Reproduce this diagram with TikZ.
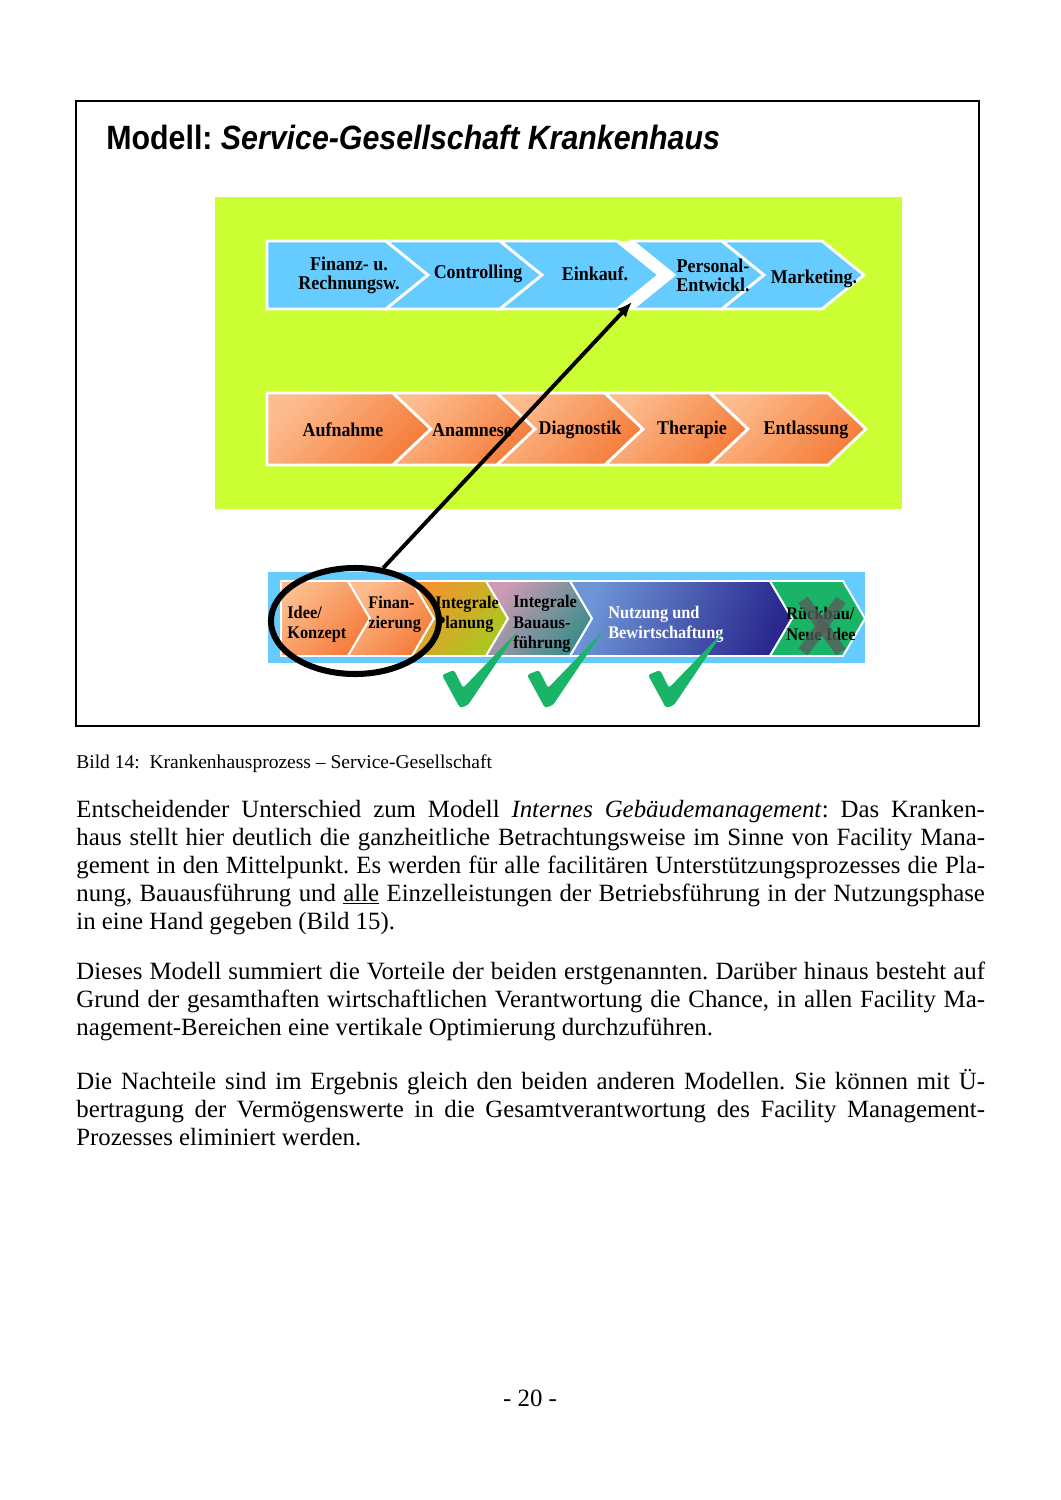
\documentclass[tikz,border=0pt]{standalone}
\usepackage{fontspec}
\setmainfont{Liberation Serif}
\newfontfamily\titlefont[FakeStretch=0.9]{Liberation Sans}
\newfontfamily\boxfont[FakeStretch=0.92]{Liberation Serif}
\usetikzlibrary{arrows.meta, shapes.geometric}
\definecolor{limebg}{RGB}{204,255,51}
\definecolor{skyrow}{RGB}{102,204,255}
\definecolor{orL}{RGB}{252,188,142}
\definecolor{orD}{RGB}{245,124,58}
\definecolor{planL}{RGB}{242,148,48}
\definecolor{planD}{RGB}{168,202,30}
\definecolor{bauL}{RGB}{206,154,180}
\definecolor{bauD}{RGB}{58,140,138}
\definecolor{nutzL}{RGB}{110,150,215}
\definecolor{nutzD}{RGB}{42,40,142}
\definecolor{rueckgreen}{RGB}{26,180,104}
\definecolor{checkgreen}{RGB}{26,180,104}
\definecolor{xgray}{RGB}{90,90,90}
\newcommand{\jline}[1]{\makebox[180mm][s]{#1}}
\frenchspacing

\begin{document}
\begin{tikzpicture}[x=0.19811mm, y=-0.19811mm, >={Latex[length=8.5pt,width=7pt]},
  chev/.style={draw=white, line width=1.6pt, line join=miter},
  chevs/.style={draw=white, line width=1.1pt, line join=miter},
  orshade/.style={top color=orL, bottom color=orD, shading angle=45},
  toplbl/.style={font=\boxfont\bfseries\fontsize{11}{10.7}\selectfont, align=center, inner sep=0pt},
  botlbl/.style={font=\boxfont\bfseries\fontsize{10}{11.5}\selectfont, align=left, anchor=west, inner sep=0pt},
  bodyline/.style={anchor=base west, inner sep=0pt, font=\fontsize{14}{16}\selectfont},
  crossmk/.style={line width=6.5pt, draw=xgray, opacity=0.75},
  checkmk/.pic={\fill[checkgreen, rounded corners=1.5pt] (-18,-33) -- (-6,-38) -- (3,-20) -- (58,-77) -- (8,-3) -- (0,0) -- cycle;}]
  \fill[white] (0,0) rectangle (1060,1500);
  \useasboundingbox (0,0) rectangle (1060,1500);
  % frame and title
  \draw[line width=0.8pt] (76,101) rectangle (979,726);
  \node[anchor=base west, inner sep=0pt, font=\titlefont\bfseries\fontsize{19}{22}\selectfont] (title) at (106,150)
    {Modell: \textit{Service-Gesellschaft Krankenhaus}};
  % green field
  \fill[limebg] (215,197) rectangle (902,509);
  % support processes (blue row)
  \draw[chev, fill=skyrow] (267,241) -- (386,241) -- ++(42,34) -- (386,309) -- (267,309) -- cycle;
  \foreach \xl/\xr in {386/500, 500/617, 632/722, 722/822}
    \draw[chev, fill=skyrow] (\xl,241) -- (\xr,241) -- ++(42,34) -- (\xr,309) -- (\xl,309) -- ++(42,-34) -- cycle;
  \fill[white] (617,241) -- (632,241) -- (674,275) -- (632,309) -- (617,309) -- (659,275) -- cycle;
  \node[toplbl] (fin) at (349,275) {Finanz- u.\\Rechnungsw.};
  \node[toplbl] (con) at (478,274) {Controlling};
  \node[toplbl] (ein) at (595,274) {Einkauf.};
  \node[toplbl] (per) at (713,275) {Personal-\\Entwickl.};
  \node[toplbl] (mar) at (814,279) {Marketing.};
  % core processes (orange row)
  \draw[chev, orshade] (267,393) -- (393,393) -- ++(38,36) -- (393,465) -- (267,465) -- cycle;
  \foreach \xl/\xr in {393/497, 497/605, 605/710, 710/828}
    \draw[chev, orshade] (\xl,393) -- (\xr,393) -- ++(38,36) -- (\xr,465) -- (\xl,465) -- ++(38,-36) -- cycle;
  \node[toplbl] (auf) at (343,430) {Aufnahme};
  \node[toplbl] (ana) at (472,430) {Anamnese};
  \node[toplbl] (dia) at (580,430) {Diagnostik};
  \node[toplbl] (the) at (692,430) {Therapie};
  \node[toplbl] (ent) at (806,430) {Entlassung};
  % building life cycle (bottom row)
  \fill[skyrow] (268,572) rectangle (865,663);
  \draw[chevs, orshade] (281,581) -- (348,581) -- ++(22,37.5) -- (348,656) -- (281,656) -- cycle;
  \draw[chevs, orshade] (348,581) -- (412,581) -- ++(22,37.5) -- (412,656) -- (348,656) -- ++(22,-37.5) -- cycle;
  \draw[chevs, top color=planL, bottom color=planD, shading angle=50] (412,581) -- (486,581) -- ++(22,37.5) -- (486,656) -- (412,656) -- ++(22,-37.5) -- cycle;
  \draw[chevs, top color=bauL, bottom color=bauD, shading angle=50] (486,581) -- (570,581) -- ++(22,37.5) -- (570,656) -- (486,656) -- ++(22,-37.5) -- cycle;
  \draw[chevs, top color=nutzL, bottom color=nutzD, shading angle=70] (570,581) -- (770,581) -- ++(22,37.5) -- (770,656) -- (570,656) -- ++(22,-37.5) -- cycle;
  \draw[chevs, fill=rueckgreen] (770,581) -- (843,581) -- ++(22,37.5) -- (843,656) -- (770,656) -- ++(22,-37.5) -- cycle;
  \node[botlbl] (ide) at (287,624) {Idee/\\Konzept};
  \node[botlbl] (fiz) at (368,614) {Finan-\\zierung};
  \node[botlbl] (ipl) at (435,614) {Integrale\\Planung};
  \node[botlbl] (iba) at (513,624) {Integrale\\Bauaus-\\führung};
  \node[botlbl, text=white] (nub) at (608,624) {Nutzung und\\Bewirtschaftung};
  \node[botlbl] (rue) at (786,624) {Rückbau/\\Neue Idee};
  % cross over demolition
  \draw[crossmk] (803,600) -- (841,652);
  \draw[crossmk] (841,600) -- (803,652);
  % ring and arrow
  \node[draw, ellipse, line width=3.4pt, minimum width=33.3mm, minimum height=21mm, inner sep=0pt] (circ) at (355,621) {};
  \coordinate (tgt) at (632,302);
  \draw[->, line width=2.2pt] (circ.62) -- (tgt);
  % check marks
  \foreach \cx in {460,545,666}
    \pic at (\cx,708) {checkmk};
  % caption and text
  \node[anchor=base west, inner sep=0pt, font=\fontsize{11}{13}\selectfont] (cap) at (76,768)
    {Bild 14:\ \ Krankenhausprozess – Service-Gesellschaft};
  \node[bodyline] (p1a) at (76,817) {\jline{Entscheidender Unterschied zum Modell \textit{Internes Gebäudemanagement}: Das Kranken-}};
  \node[bodyline] (p1b) at (76,845) {\jline{haus stellt hier deutlich die ganzheitliche Betrachtungsweise im Sinne von Facility Mana-}};
  \node[bodyline] (p1c) at (76,873) {\jline{gement in den Mittelpunkt. Es werden für alle facilitären Unterstützungsprozesses die Pla-}};
  \node[bodyline] (p1d) at (76,901) {\jline{nung, Bauausführung und \underline{alle} Einzelleistungen der Betriebsführung in der Nutzungsphase}};
  \node[bodyline] (p1e) at (76,929) {in eine Hand gegeben (Bild 15).};
  \node[bodyline] (p2a) at (76,979) {\jline{Dieses Modell summiert die Vorteile der beiden erstgenannten. Darüber hinaus besteht auf}};
  \node[bodyline] (p2b) at (76,1007) {\jline{Grund der gesamthaften wirtschaftlichen Verantwortung die Chance, in allen Facility Ma-}};
  \node[bodyline] (p2c) at (76,1035) {nagement-Bereichen eine vertikale Optimierung durchzuführen.};
  \node[bodyline] (p3a) at (76,1089) {\jline{Die Nachteile sind im Ergebnis gleich den beiden anderen Modellen. Sie können mit Ü-}};
  \node[bodyline] (p3b) at (76,1117) {\jline{bertragung der Vermögenswerte in die Gesamtverantwortung des Facility Management-}};
  \node[bodyline] (p3c) at (76,1145) {Prozesses eliminiert werden.};
  \node[anchor=base, inner sep=0pt, font=\fontsize{14}{16}\selectfont] (pgno) at (530,1406) {- 20 -};
\end{tikzpicture}
\end{document}
